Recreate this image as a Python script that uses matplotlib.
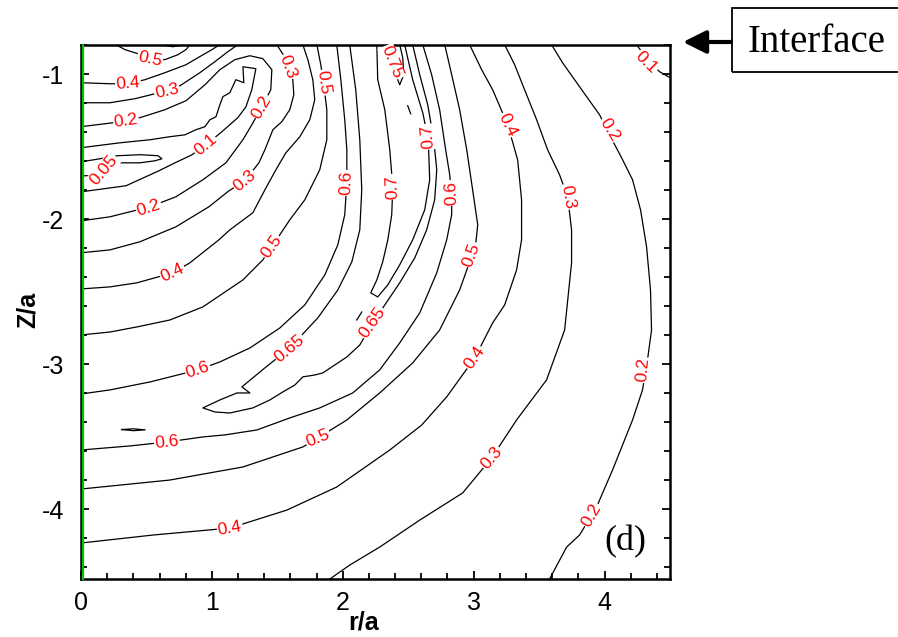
import numpy as np
import matplotlib
matplotlib.use("Agg")
from matplotlib import pyplot as plt
from matplotlib.ticker import MultipleLocator
from matplotlib.patches import Rectangle

# contour lines of the field, traced as (r/a, Z/a) polylines
# low-value tongue next to the axis
r_005 = [0, .145, .282, .450, .588, .618, .565, .450, .298, .237, .191, .145, .069, 0]
z_005 = [-1.605, -1.584, -1.563, -1.556, -1.563, -1.584, -1.598, -1.612, -1.612, -1.612, -1.653, -1.688, -1.701, -1.701]

r_01 = [0, .298, .527, .679, .794, .878, .947, .985, 1.031, 1.061, 1.084, 1.137, 1.183, 1.244, 1.237,
        1.336, 1.305, 1.260, 1.198, 1.076, .954, .847, .718, .595, .344, 0]
z_01 = [-1.508, -1.474, -1.453, -1.432, -1.419, -1.384, -1.363, -1.315, -1.295, -1.212, -1.156, -1.129, -1.039, -1.060, -0.950,
        -0.963, -1.108, -1.226, -1.301, -1.398, -1.488, -1.557, -1.612, -1.667, -1.770, -1.812]

r_02 = [0, .244, .450, .641, .802, .947, 1.061, 1.176, 1.290, 1.389, 1.458, 1.450, 1.382, 1.305, 1.237, 1.107, .931, .725, .527, .221, 0]
z_02 = [-1.363, -1.336, -1.301, -1.246, -1.184, -1.074, -0.970, -0.901, -0.874, -0.894, -0.970, -1.108, -1.226, -1.350, -1.453,
        -1.612, -1.729, -1.846, -1.915, -1.984, -2.012]

r_03a = [0, .221, .412, .565, .656, .756, .908, 1.023, 1.122, 1.198]
z_03a = [-1.198, -1.198, -1.170, -1.136, -1.115, -1.081, -0.991, -0.915, -0.846, -0.798]

r_03b = [1.496, 1.550, 1.588, 1.618, 1.626, 1.595, 1.534, 1.466, 1.405, 1.359, 1.252, 1.130, .977, .725, .450, .221, 0]
z_03b = [-0.798, -0.874, -0.950, -1.039, -1.143, -1.246, -1.329, -1.384, -1.522, -1.612, -1.736, -1.805, -1.915, -2.053,
         -2.156, -2.212, -2.232]

r_04a = [0, .221, .359, .489, .641, .802, .908, 1.000, 1.061]
z_04a = [-1.060, -1.067, -1.067, -1.039, -0.991, -0.936, -0.880, -0.832, -0.798]

r_04b = [1.695, 1.733, 1.771, 1.786, 1.748, 1.672, 1.565, 1.489, 1.405, 1.313, 1.137, 1.053, .832, .702, .427, .221, 0]
z_04b = [-0.798, -0.901, -1.039, -1.177, -1.315, -1.432, -1.543, -1.660, -1.798, -1.956, -2.074, -2.143, -2.301, -2.370,
         -2.439, -2.467, -2.481]

r_05a = [.267, .336, .435, .527, .641, .740, .802, .832]
z_05a = [-0.798, -0.832, -0.860, -0.901, -0.901, -0.867, -0.832, -0.798]

r_05b = [1.802, 1.832, 1.855, 1.878, 1.878, 1.824, 1.710, 1.595, 1.458, 1.389, 1.237, .931, .679, .427, .221, 0]
z_05b = [-0.798, -0.936, -1.074, -1.246, -1.453, -1.660, -1.867, -2.005, -2.191, -2.281, -2.419, -2.605, -2.695, -2.743,
         -2.778, -2.798]

# ridge of high values
r_06a = [1.954, 1.985, 2.015, 2.031, 2.031, 2.015, 1.962, 1.863, 1.710, 1.519, 1.290, 1.061, .893, .527, .221, 0]
z_06a = [-0.798, -1.039, -1.315, -1.522, -1.750, -1.970, -2.177, -2.384, -2.591, -2.750, -2.888, -2.984, -3.039, -3.122,
         -3.177, -3.205]

r_065 = [2.053, 2.099, 2.130, 2.145, 2.130, 2.069, 1.962, 1.809, 1.595, 1.405, 1.275, 1.229, 1.290, 1.191, 1.061, .931,
         1.023, 1.137, 1.313, 1.443, 1.542, 1.634, 1.695, 1.786, 1.847, 1.939, 2.031, 2.130, 2.229, 2.321, 2.435, 2.550,
         2.641, 2.702, 2.718, 2.695, 2.649, 2.588, 2.534]
z_065 = [-0.798, -1.108, -1.453, -1.798, -2.074, -2.295, -2.488, -2.681, -2.888, -3.025, -3.122, -3.156, -3.198, -3.198,
         -3.246, -3.301, -3.329, -3.336, -3.301, -3.246, -3.191, -3.143, -3.087, -3.074, -3.060, -3.005, -2.950, -2.867,
         -2.715, -2.591, -2.439, -2.267, -2.074, -1.867, -1.660, -1.453, -1.212, -1.005, -0.798]

r_07 = [2.260, 2.267, 2.321, 2.359, 2.382, 2.374, 2.344, 2.305, 2.260, 2.214, 2.267, 2.344, 2.435, 2.534, 2.626, 2.664,
        2.656, 2.649, 2.611, 2.534, 2.473]
z_07 = [-0.798, -1.039, -1.246, -1.522, -1.777, -1.970, -2.143, -2.295, -2.419, -2.508, -2.536, -2.453, -2.315, -2.143,
        -1.936, -1.729, -1.522, -1.432, -1.267, -1.039, -0.798]

r_075 = [2.328, 2.366, 2.405, 2.435, 2.466, 2.458, 2.435]
z_075 = [-0.798, -0.901, -1.005, -1.074, -1.005, -0.887, -0.798]

# outer side, values falling off with r
r_06b = [2.611, 2.679, 2.740, 2.786, 2.817, 2.832, 2.832, 2.794, 2.718, 2.588, 2.435, 2.282, 2.076, 1.824, 1.595, 1.344,
         1.099, .931, .656, .374, 0]
z_06b = [-0.798, -1.005, -1.246, -1.522, -1.694, -1.846, -1.970, -2.143, -2.370, -2.646, -2.853, -3.039, -3.198, -3.301,
         -3.370, -3.453, -3.487, -3.501, -3.536, -3.563, -3.591]

r_05c = [2.779, 2.832, 2.893, 2.947, 2.992, 3.031, 3.015, 2.969, 2.893, 2.740, 2.534, 2.282, 2.031, 1.809, 1.695, 1.237, .679, 0]
z_05c = [-0.798, -1.005, -1.246, -1.522, -1.798, -2.039, -2.177, -2.295, -2.488, -2.764, -2.991, -3.198, -3.384, -3.508,
         -3.570, -3.708, -3.798, -3.860]

r_04c = [2.969, 3.061, 3.145, 3.260, 3.336, 3.366, 3.366, 3.328, 3.237, 3.145, 3.008, 2.794, 2.603, 2.359, 1.954, 1.573,
         1.137, .550, 0]
z_04c = [-0.798, -0.970, -1.108, -1.350, -1.591, -1.867, -2.143, -2.350, -2.591, -2.715, -2.957, -3.225, -3.419, -3.591,
         -3.846, -4.005, -4.129, -4.177, -4.232]

r_03c = [3.237, 3.313, 3.389, 3.481, 3.565, 3.656, 3.718, 3.748, 3.748, 3.695, 3.557, 3.328, 3.137, 2.916, 2.588, 2.282, 2.053, 1.901]
z_03c = [-0.798, -0.936, -1.108, -1.315, -1.522, -1.694, -1.846, -2.074, -2.301, -2.764, -3.108, -3.384, -3.646, -3.887,
         -4.074, -4.260, -4.384, -4.480]

r_02c = [3.595, 3.679, 3.771, 3.863, 3.962, 4.038, 4.130, 4.214, 4.275, 4.321, 4.351, 4.359, 4.328, 4.290, 4.214, 4.061,
         3.939, 3.809, 3.710, 3.580]
z_02c = [-0.798, -0.922, -1.039, -1.156, -1.281, -1.419, -1.577, -1.729, -1.936, -2.191, -2.488, -2.764, -2.970, -3.177,
         -3.384, -3.729, -3.984, -4.177, -4.260, -4.480]

r_01c = [4.244, 4.290, 4.344, 4.420, 4.5]
z_01c = [-0.798, -0.853, -0.915, -0.984, -1.025]

# tiny closed pieces
r_06s = [.626, .700, .779]
z_06s = [-0.800, -0.812, -0.800]
r_065s = [.31, .40, .49, .40, .31]
z_065s = [-3.450, -3.445, -3.452, -3.458, -3.450]
r_07s = [2.107, 2.145]
z_07s = [-2.695, -2.640]
r_075s = [2.496, 2.519]
z_075s = [-1.218, -1.274]

lines = [(r_005, z_005), (r_01, z_01), (r_02, z_02), (r_03a, z_03a), (r_03b, z_03b),
         (r_04a, z_04a), (r_04b, z_04b), (r_05a, z_05a), (r_05b, z_05b), (r_06a, z_06a),
         (r_065, z_065), (r_07, z_07), (r_075, z_075), (r_06b, z_06b), (r_05c, z_05c),
         (r_04c, z_04c), (r_03c, z_03c), (r_02c, z_02c), (r_01c, z_01c),
         (r_06s, z_06s), (r_065s, z_065s), (r_07s, z_07s), (r_075s, z_075s)]

# contour labels: value, r, Z, angle
labels = [(0.05, .176, -1.660, 50), (0.1, .95, -1.49, 40),
          (0.2, .344, -1.322, 8), (0.2, 1.382, -1.226, 60), (0.2, .519, -1.922, 18),
          (0.3, .656, -1.115, 12), (0.3, 1.58, -0.95, -70), (0.3, 1.252, -1.736, 40),
          (0.4, .359, -1.067, 5), (0.4, .70, -2.37, 25),
          (0.5, .527, -0.895, -12), (0.5, 1.85, -1.06, -82), (0.5, 1.458, -2.19, 55),
          (0.6, 2.03, -1.75, 88), (0.6, .893, -3.04, 18),
          (0.65, 1.595, -2.89, 40), (0.65, 2.229, -2.715, 55),
          (0.7, 2.38, -1.777, 92), (0.7, 2.649, -1.432, 95), (0.75, 2.374, -0.92, -68),
          (0.6, 2.83, -1.82, 92), (0.6, .656, -3.536, 6),
          (0.5, 2.985, -2.246, 70), (0.5, 1.809, -3.508, 22),
          (0.4, 3.26, -1.35, -65), (0.4, 3.008, -2.957, 55), (0.4, 1.137, -4.129, 10),
          (0.3, 3.718, -1.846, -80), (0.3, 3.137, -3.646, 50),
          (0.2, 4.038, -1.384, -58), (0.2, 4.29, -3.04, 85), (0.2, 3.9, -4.04, 60),
          (0.1, 4.32, -0.92, -45)]

plt.rcParams["font.family"] = ["Liberation Sans", "DejaVu Sans"]
plt.rcParams["axes.unicode_minus"] = False

fig = plt.figure(figsize=(8.98, 6.37), dpi=100)
ax = fig.add_axes([81/898, 58/637, 589/898, 534/637])

for r, z in lines:
    ax.plot(r, z, color="black", lw=0.9, zorder=2)

for val, r, z, ang in labels:
    ax.text(r, z, f"{val:g}", rotation=ang, rotation_mode="anchor", ha="center", va="center",
            color="red", fontsize=12.5, zorder=4,
            bbox=dict(boxstyle="square,pad=0.05", fc="white", ec="none"))

# symmetry axis
ax.plot([0.012, 0.012], [-4.48, -0.8], color="#00c000", lw=1.6, zorder=3, clip_on=False)

ax.set_xlim(0, 4.5)
ax.set_ylim(-4.48, -0.8)
ax.set_xticks([0, 1, 2, 3, 4])
ax.set_yticks([-4, -3, -2, -1])
ax.xaxis.set_minor_locator(MultipleLocator(0.2))
ax.yaxis.set_minor_locator(MultipleLocator(0.2))
ax.tick_params(which="both", direction="in", top=False, right=True, width=1.3)
ax.tick_params(which="major", length=6, labelsize=18)
ax.tick_params(axis="x", which="major", pad=9)
ax.tick_params(axis="y", which="major", pad=12)
ax.tick_params(which="minor", length=4)
for s in ax.spines.values():
    s.set_linewidth(1.8)

fig.text(364/898, 1 - 623/637, "r/a", ha="center", va="center", fontsize=18, weight="bold")
fig.text(28/898, 1 - 310/637, "Z/a", ha="center", va="center", fontsize=18, weight="bold", rotation=90)

ax.text(625/898, 1 - 542/637, "(d)", transform=fig.transFigure, ha="center", va="center",
        fontsize=26, family="Liberation Serif")

# interface marker
fig.patches.append(Rectangle((732/898, 1 - 72/637), 0.3, 64/637, transform=fig.transFigure,
                             fill=False, ec="black", lw=1.3))
fig.text(817/898, 1 - 43/637, "Interface", ha="center", va="center", fontsize=28, family="Liberation Serif")
ax.annotate("", xy=(683/898, 1 - 42/637), xycoords="figure fraction",
            xytext=(731/898, 1 - 42/637), textcoords="figure fraction",
            arrowprops=dict(arrowstyle="-|>,head_length=0.7,head_width=0.35", lw=3, color="black",
                            mutation_scale=20, shrinkA=0, shrinkB=0))

fig.savefig("out.png", dpi=100)
